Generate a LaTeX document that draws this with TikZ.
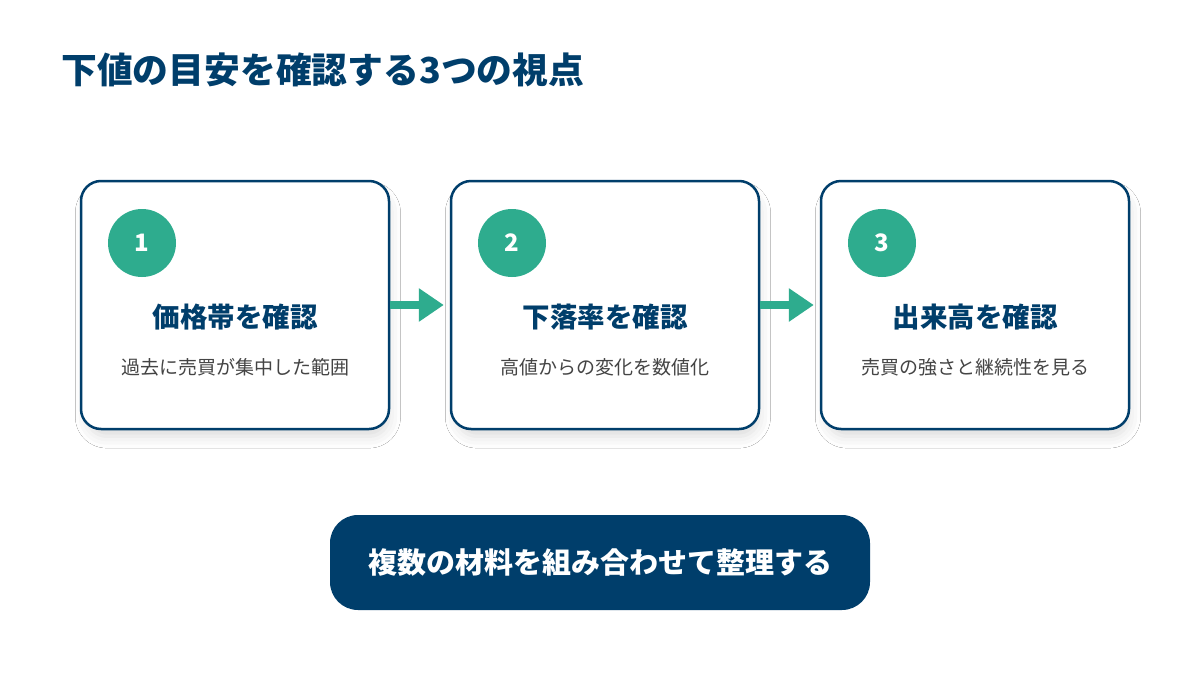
\documentclass[tikz,border=0pt]{standalone}
\usepackage{fontspec}
\setmainfont{Noto Sans CJK JP}
\usetikzlibrary{arrows.meta,shadows.blur}
\definecolor{navy}{HTML}{003E6B}
\definecolor{teal}{HTML}{2EAC8E}
\definecolor{subgray}{HTML}{444444}
\tikzset{
  card/.style={draw=navy, line width=2.5pt, fill=white, rounded corners=20pt,
    minimum width=308pt, minimum height=248pt, inner sep=0pt,
    blur shadow={shadow xshift=3pt, shadow yshift=-10pt, shadow scale=0.98, shadow blur radius=12pt, shadow opacity=14}},
  badge/.style={circle, fill=teal, minimum size=68pt, inner sep=0pt,
    text=white, font=\bfseries\fontsize{24pt}{28pt}\selectfont},
  cardtitle/.style={text=navy, font=\bfseries\fontsize{27.5pt}{32pt}\selectfont, anchor=center},
  cardsub/.style={text=subgray, font=\fontsize{19pt}{22pt}\selectfont, anchor=center},
  flow/.style={draw=teal, line width=8pt, -{Triangle[length=25pt,width=32pt]}, shorten >=6pt},
}
\begin{document}
\begin{tikzpicture}[x=1pt,y=-1pt]
\useasboundingbox[fill=white] (0,0) rectangle (1200,675);
\node[anchor=west, text=navy, font=\bfseries\fontsize{35.8pt}{40pt}\selectfont, inner sep=0pt] (title) at (61,70) {下値の目安を確認する3つの視点};

\node[card] (b1) at (235,305) {};
\node[card] (b2) at (605,305) {};
\node[card] (b3) at (975,305) {};

\node[badge] (n1) at (142,243) {1};
\node[badge] (n2) at (512,243) {2};
\node[badge] (n3) at (882,243) {3};

\node[cardtitle] (t1) at (235,317) {価格帯を確認};
\node[cardtitle] (t2) at (605,317) {下落率を確認};
\node[cardtitle] (t3) at (975,317) {出来高を確認};

\node[cardsub] (s1) at (235,367) {過去に売買が集中した範囲};
\node[cardsub] (s2) at (605,367) {高値からの変化を数値化};
\node[cardsub] (s3) at (975,367) {売買の強さと継続性を見る};

\draw[flow] (b1.east) -- (b2.west);
\draw[flow] (b2.east) -- (b3.west);

\node[fill=navy, rounded corners=28pt, minimum width=540pt, minimum height=95pt, text=white,
  font=\bfseries\fontsize{29pt}{33pt}\selectfont] (sum) at (600,562.5) {複数の材料を組み合わせて整理する};
\end{tikzpicture}
\end{document}
